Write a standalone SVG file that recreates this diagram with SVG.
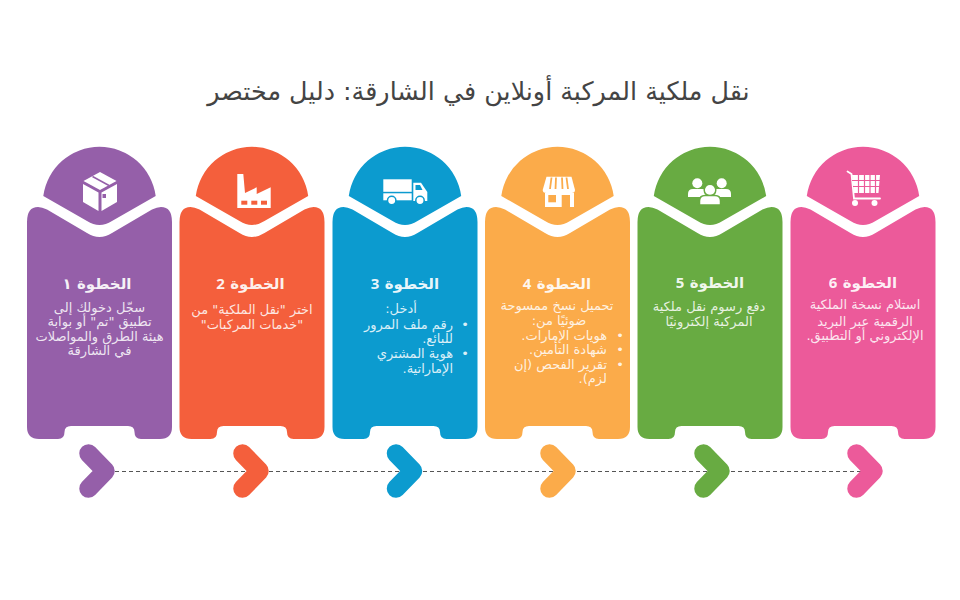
<svg xmlns="http://www.w3.org/2000/svg" width="960" height="600" viewBox="0 0 960 600">
<style>
text{font-family:"DejaVu Sans",sans-serif;direction:rtl;stroke:none}
.title{font-size:25.4px;fill:#444;text-anchor:middle}
.head{font-size:15px;font-weight:700;fill:#fff;text-anchor:middle;fill-opacity:.92}
.n{font-family:"Noto Sans","DejaVu Sans",sans-serif}
.b{font-size:13px;fill:#fff;fill-opacity:.85;text-anchor:middle}
.r{text-anchor:start}
.i{fill:#fff}
.dash{stroke:#555;stroke-width:1;stroke-dasharray:4 3;fill:none}
.chev{fill:none;stroke-width:18.5;stroke-linecap:round;stroke-linejoin:round}
</style>
<defs>
<path id="shape" d="M0 222Q0 207 11 207Q15 207 20 209.5L60 233Q72.5 241 85 233L125 209.5Q130 207 134 207Q145 207 145 222V427Q145 439 133 439H114Q107.500 439 107.500 432Q107.500 426 101 426H44Q37.500 426 37.500 432Q37.500 439 31 439H12Q0 439 0 427Z"/>
<path id="cap" d="M16.300 196A56.700 56.700 0 0 1 128.700 196L85 221Q72.500 229 60 221Z"/>
<polyline id="arrow" class="chev" points="88.500,453.500 105.500,471 88.500,488.500"/>
</defs>
<text class="title" x="478.500" y="100">نقل ملكية المركبة أونلاين في الشارقة: دليل مختصر</text>
<g id="connectors"><line class="dash" x1="115" y1="471.500" x2="862" y2="471.500"/></g>
<g id="step1" fill="#955fa9" stroke="#955fa9">
<use href="#shape" x="27" stroke="none"/><use href="#cap" x="27" stroke="none"/><use href="#arrow"/>
<g stroke="none" class="i"><path d="M100 172L116.500 181L100 190L83.500 181Z"/><path d="M83 184L98.500 192.500V211L83 202Z"/><path d="M101.500 192.500L117 184V202L101.500 211Z"/></g>
<path d="M92.500 176.500L109 185.500" fill="none" stroke-width="1.500"/><rect x="102.500" y="194" width="3.500" height="4" stroke="none"/>
<text class="head" x="97" y="289">الخطوة ١</text>
<text class="b" x="99.500" y="312">سجّل دخولك إلى</text><text class="b" x="99.500" y="326">تطبيق "تم"   أو بوابة</text><text class="b" x="99.500" y="341">هيئة الطرق والمواصلات</text><text class="b" x="99.500" y="355">في الشارقة</text>
</g>
<g id="step2" fill="#f45f3c" stroke="#f45f3c">
<use href="#shape" x="179.500" stroke="none"/><use href="#cap" x="179.500" stroke="none"/><use href="#arrow" x="154"/>
<path class="i" stroke="none" d="M237.300 174H243.300L245 193L256.700 187.300V194L270.700 187.300V208H237.300Z"/>
<g stroke="none"><rect x="241.300" y="200.700" width="6" height="4"/><rect x="251.300" y="200.700" width="6" height="4"/><rect x="261" y="200.700" width="6" height="4"/></g>
<text class="head" x="250.500" y="289">الخطوة <tspan class="n">2</tspan></text>
<text class="b" x="252" y="314">اختر "نقل الملكية" من</text><text class="b" x="252" y="329">"خدمات المركبات"</text>
</g>
<g id="step3" fill="#0c9bcf" stroke="#0c9bcf">
<use href="#shape" x="332.500" stroke="none"/><use href="#cap" x="332.500" stroke="none"/><use href="#arrow" x="307.500"/>
<g stroke="none" class="i"><rect x="383.300" y="179.300" width="28.400" height="12.500"/><rect x="383.300" y="193.300" width="28.400" height="7"/><path d="M413.300 182.700H421L427.300 192V201H413.300Z"/></g>
<path d="M415.500 185H420L422.500 190H415.500Z" stroke="none"/>
<g class="i" stroke-width="1.500"><circle cx="391.700" cy="200.500" r="4.200"/><circle cx="420" cy="200.500" r="4.200"/></g>
<text class="head" x="405" y="289">الخطوة <tspan class="n">3</tspan></text>
<text class="b" x="401" y="313">أدخل:</text>
<text class="b" x="465" y="329">•</text><text class="b r" x="453" y="329">رقم ملف المرور</text><text class="b r" x="453" y="343">للبائع.</text>
<text class="b" x="465" y="358">•</text><text class="b r" x="453" y="358">هوية المشتري</text><text class="b r" x="453" y="373">الإماراتية.</text>
</g>
<g id="step4" fill="#fbab4a" stroke="#fbab4a">
<use href="#shape" x="485" stroke="none"/><use href="#cap" x="485" stroke="none"/><use href="#arrow" x="461"/>
<path class="i" stroke="none" d="M546.500 176.700H571.500L575 190Q575 193 571.500 193H546.500Q542.700 193 542.700 190Z"/>
<path d="M551.500 177.500L550 189M556 177.500L555.500 189M562 177.500L562.500 189M566.500 177.500L568 189" fill="none" stroke-width="1.800"/>
<path class="i" stroke="none" d="M545 193H574V207H545Z"/>
<g stroke="none"><rect x="548.300" y="195" width="7.700" height="7.300"/><rect x="561.700" y="195" width="8.300" height="12"/></g>
<text class="head" x="557" y="289">الخطوة <tspan class="n">4</tspan></text>
<text class="b" x="557" y="310">تحميل نسخ ممسوحة</text><text class="b" x="559" y="325">ضوئيًا من:</text>
<text class="b" x="620" y="340">•</text><text class="b r" x="607" y="340">هويات الإمارات.</text>
<text class="b" x="620" y="354">•</text><text class="b r" x="607" y="354">شهادة التأمين.</text>
<text class="b" x="620" y="369">•</text><text class="b r" x="607" y="369">تقرير الفحص (إن</text><text class="b r" x="607" y="383">لزم).</text>
</g>
<g id="step5" fill="#68ab42" stroke="#68ab42">
<use href="#shape" x="637.500" stroke="none"/><use href="#cap" x="637.500" stroke="none"/><use href="#arrow" x="615"/>
<g class="i" stroke="none"><circle cx="697.300" cy="183.300" r="5"/><circle cx="721.700" cy="183.300" r="5"/><path d="M688 197V194Q688 189 693 189H702Q707 189 707 194V197Z"/><path d="M712 197V194Q712 189 717 189H726Q731 189 731 194V197Z"/></g>
<g class="i" stroke-width="1.500"><circle cx="710" cy="190" r="5.800"/><path d="M699.500 205V201Q699.500 195.500 705 195.500H715Q720.500 195.500 720.500 201V205Z"/></g>
<text class="head" x="710" y="288">الخطوة <tspan class="n">5</tspan></text>
<text class="b" x="709" y="311">دفع رسوم نقل ملكية</text><text class="b" x="709" y="326">المركبة إلكترونيًا</text>
</g>
<g id="step6" fill="#ec5a9a" stroke="#ec5a9a">
<use href="#shape" x="790.500" stroke="none"/><use href="#cap" x="790.500" stroke="none"/><use href="#arrow" x="768"/>
<path d="M847.500 171.500L851.500 174L854 198.500H880" fill="none" stroke="#fff" stroke-width="1.800" stroke-linecap="round"/>
<path class="i" stroke="none" d="M852 175H880L878.500 193H854Z"/>
<path d="M852 180.500H880M853 186.500H879.500M858.500 175V193M864.500 175V193M870 175V193M875.500 175V193" fill="none" stroke-width="1.200"/>
<g class="i" stroke="none"><circle cx="855" cy="203" r="3"/><circle cx="874.500" cy="203" r="3"/></g>
<text class="head" x="863" y="288">الخطوة <tspan class="n">6</tspan></text>
<text class="b" x="865" y="309">استلام نسخة الملكية</text><text class="b" x="865" y="326">الرقمية عبر البريد</text><text class="b" x="865" y="340">الإلكتروني أو التطبيق.</text>
</g>
</svg>
